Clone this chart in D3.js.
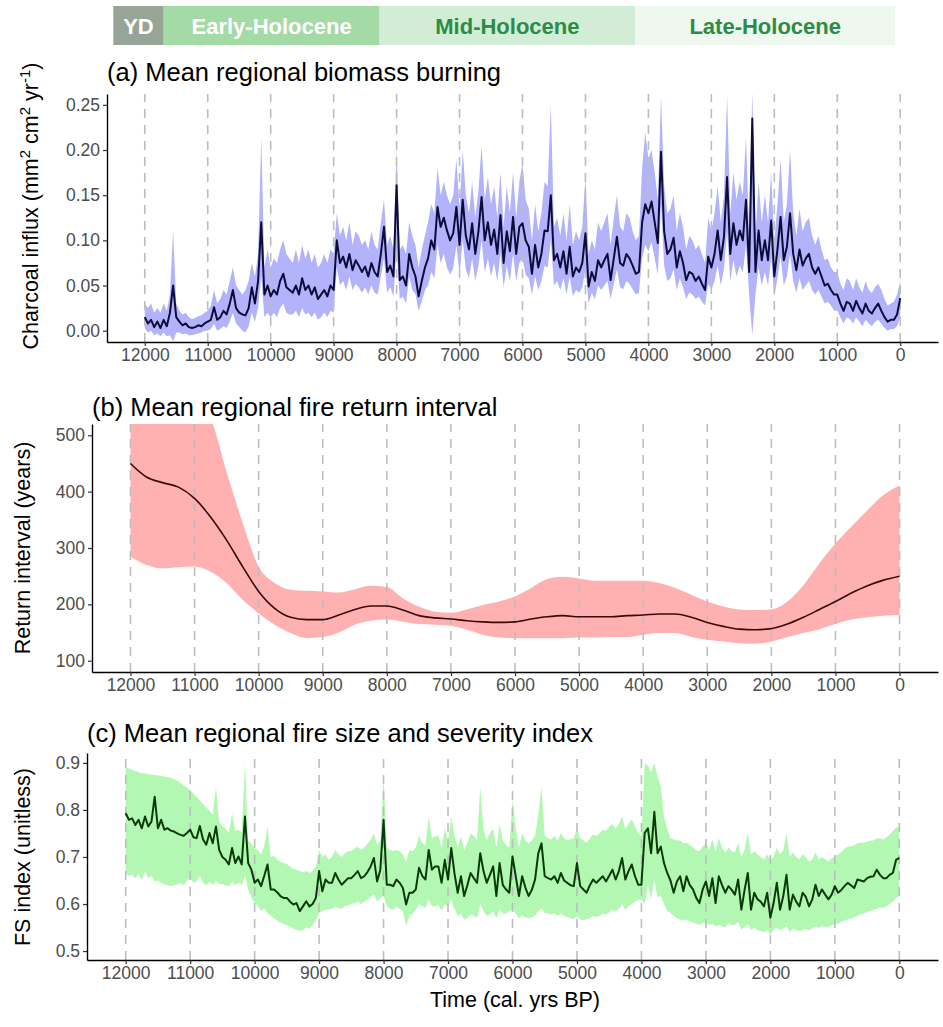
<!DOCTYPE html>
<html>
<head>
<meta charset="utf-8">
<script src="https://cdn.jsdelivr.net/npm/d3@7"></script>
<style>
body { margin: 0; background: #fff; }
svg { display: block; font-family: "Liberation Sans", Arial, sans-serif; }
</style>
</head>
<body>
<svg id="chart" width="943" height="1027"></svg>
<script>
"use strict";

// ---- data -----------------------------------------------------------------

var yearTicks = [12000, 11000, 10000, 9000, 8000, 7000, 6000, 5000, 4000, 3000, 2000, 1000, 0];

// Holocene phases (cal. yrs BP)
var phaseNames = ["YD", "Early-Holocene", "Mid-Holocene", "Late-Holocene"];
var phaseStart = [12500, 11700, 8270, 4210];
var phaseEnd = [11700, 8270, 4210, 80];

// (a) and (c) are sampled every 50 years, 12000 -> 0 BP
var fineYears = d3.range(12000, -1, -50);
// (b) smooth curve, every 250 years
var smoothYears = d3.range(12000, -1, -250);

// (a) charcoal influx, mean and ribbon
var charcoalMean = [
  0.015, 0.008, 0.012, 0.004, 0.010, 0.003, 0.012, 0.005, 0.020, 0.050,
  0.015, 0.010, 0.006, 0.008, 0.004, 0.003, 0.004, 0.006, 0.005, 0.008,
  0.010, 0.012, 0.026, 0.012, 0.015, 0.022, 0.018, 0.030, 0.045, 0.025,
  0.020, 0.018, 0.017, 0.025, 0.048, 0.030, 0.055, 0.120, 0.040, 0.050,
  0.038, 0.045, 0.040, 0.055, 0.063, 0.048, 0.045, 0.042, 0.050, 0.040,
  0.058, 0.045, 0.050, 0.040, 0.048, 0.035, 0.040, 0.045, 0.038, 0.050,
  0.045, 0.100, 0.075, 0.082, 0.070, 0.085, 0.067, 0.078, 0.072, 0.065,
  0.071, 0.060, 0.075, 0.065, 0.060, 0.085, 0.115, 0.065, 0.072, 0.060,
  0.161, 0.056, 0.060, 0.050, 0.085, 0.070, 0.060, 0.038, 0.055, 0.070,
  0.080, 0.100, 0.090, 0.137, 0.115, 0.125, 0.111, 0.100, 0.108, 0.137,
  0.095, 0.145, 0.105, 0.090, 0.119, 0.085, 0.110, 0.148, 0.100, 0.120,
  0.095, 0.112, 0.085, 0.128, 0.075, 0.110, 0.088, 0.126, 0.085, 0.115,
  0.119, 0.100, 0.093, 0.063, 0.095, 0.070, 0.085, 0.111, 0.110, 0.150,
  0.078, 0.085, 0.070, 0.088, 0.063, 0.093, 0.060, 0.070, 0.065, 0.075,
  0.108, 0.049, 0.065, 0.055, 0.078, 0.070, 0.078, 0.085, 0.056, 0.080,
  0.104, 0.075, 0.072, 0.085, 0.080, 0.072, 0.063, 0.065, 0.120, 0.140,
  0.130, 0.143, 0.120, 0.097, 0.198, 0.110, 0.085, 0.090, 0.103, 0.070,
  0.088, 0.075, 0.056, 0.065, 0.063, 0.055, 0.060, 0.052, 0.045, 0.082,
  0.070, 0.085, 0.111, 0.078, 0.104, 0.170, 0.085, 0.119, 0.095, 0.111,
  0.100, 0.145, 0.065, 0.235, 0.065, 0.111, 0.078, 0.100, 0.078, 0.122,
  0.060, 0.090, 0.126, 0.078, 0.093, 0.130, 0.085, 0.067, 0.090, 0.072,
  0.080, 0.085, 0.070, 0.063, 0.070, 0.060, 0.050, 0.052, 0.045, 0.040,
  0.040, 0.030, 0.022, 0.032, 0.030, 0.022, 0.033, 0.025, 0.019, 0.030,
  0.022, 0.019, 0.025, 0.030, 0.022, 0.015, 0.010, 0.012, 0.012, 0.018,
  0.036
];
var charcoalUpper = [
  0.030, 0.025, 0.030, 0.020, 0.025, 0.020, 0.030, 0.022, 0.040, 0.110,
  0.030, 0.022, 0.018, 0.020, 0.015, 0.013, 0.014, 0.016, 0.017, 0.020,
  0.022, 0.028, 0.045, 0.030, 0.035, 0.045, 0.040, 0.055, 0.070, 0.050,
  0.045, 0.040, 0.045, 0.055, 0.075, 0.060, 0.085, 0.215, 0.070, 0.090,
  0.070, 0.080, 0.075, 0.090, 0.100, 0.085, 0.080, 0.075, 0.090, 0.075,
  0.095, 0.080, 0.090, 0.075, 0.085, 0.070, 0.075, 0.085, 0.075, 0.090,
  0.085, 0.130, 0.105, 0.115, 0.100, 0.120, 0.095, 0.110, 0.105, 0.095,
  0.100, 0.090, 0.110, 0.095, 0.090, 0.120, 0.145, 0.095, 0.105, 0.090,
  0.200, 0.090, 0.095, 0.085, 0.120, 0.105, 0.095, 0.070, 0.090, 0.105,
  0.120, 0.140, 0.130, 0.180, 0.150, 0.165, 0.150, 0.140, 0.150, 0.190,
  0.135, 0.200, 0.150, 0.130, 0.165, 0.125, 0.155, 0.205, 0.145, 0.170,
  0.140, 0.160, 0.125, 0.175, 0.115, 0.160, 0.130, 0.175, 0.125, 0.165,
  0.185, 0.145, 0.135, 0.100, 0.140, 0.110, 0.130, 0.165, 0.160, 0.250,
  0.115, 0.125, 0.105, 0.130, 0.100, 0.140, 0.095, 0.110, 0.100, 0.115,
  0.170, 0.085, 0.100, 0.090, 0.120, 0.110, 0.120, 0.130, 0.095, 0.125,
  0.150, 0.115, 0.110, 0.130, 0.125, 0.110, 0.100, 0.105, 0.180, 0.220,
  0.190, 0.200, 0.175, 0.145, 0.260, 0.160, 0.130, 0.135, 0.150, 0.110,
  0.130, 0.115, 0.090, 0.105, 0.100, 0.090, 0.095, 0.085, 0.075, 0.125,
  0.110, 0.130, 0.160, 0.120, 0.150, 0.260, 0.130, 0.175, 0.145, 0.165,
  0.150, 0.215, 0.105, 0.265, 0.105, 0.165, 0.120, 0.150, 0.120, 0.175,
  0.100, 0.140, 0.190, 0.120, 0.140, 0.200, 0.130, 0.105, 0.135, 0.110,
  0.120, 0.125, 0.105, 0.095, 0.105, 0.090, 0.078, 0.080, 0.070, 0.065,
  0.065, 0.052, 0.045, 0.058, 0.055, 0.045, 0.058, 0.048, 0.042, 0.055,
  0.045, 0.042, 0.048, 0.052, 0.045, 0.035, 0.028, 0.030, 0.032, 0.040,
  0.055
];
var charcoalLower = [
  0.003, -0.002, 0.000, -0.005, -0.003, -0.006, -0.002, -0.006, -0.005, -0.012,
  -0.002, -0.002, -0.004, -0.003, -0.005, -0.005, -0.004, -0.003, -0.002, 0.000,
  0.000, 0.002, 0.008, 0.000, 0.002, 0.005, 0.003, 0.010, 0.020, 0.008,
  0.004, 0.000, -0.002, 0.005, 0.020, 0.010, 0.025, 0.060, 0.015, 0.020,
  0.015, 0.020, 0.015, 0.025, 0.030, 0.020, 0.018, 0.018, 0.022, 0.015,
  0.025, 0.018, 0.020, 0.015, 0.020, 0.012, 0.015, 0.020, 0.015, 0.022,
  0.020, 0.070, 0.050, 0.055, 0.045, 0.060, 0.045, 0.052, 0.048, 0.042,
  0.048, 0.040, 0.050, 0.042, 0.040, 0.060, 0.080, 0.042, 0.048, 0.038,
  0.090, 0.035, 0.038, 0.030, 0.060, 0.045, 0.040, 0.022, 0.032, 0.045,
  0.050, 0.065, 0.058, 0.095, 0.075, 0.085, 0.070, 0.062, 0.070, 0.095,
  0.062, 0.100, 0.068, 0.058, 0.080, 0.055, 0.072, 0.100, 0.065, 0.080,
  0.060, 0.075, 0.055, 0.085, 0.048, 0.072, 0.055, 0.085, 0.055, 0.075,
  0.080, 0.062, 0.058, 0.040, 0.060, 0.045, 0.055, 0.072, 0.070, 0.100,
  0.050, 0.055, 0.045, 0.058, 0.040, 0.060, 0.038, 0.045, 0.042, 0.048,
  0.068, 0.030, 0.042, 0.035, 0.050, 0.045, 0.050, 0.055, 0.035, 0.052,
  0.068, 0.048, 0.046, 0.055, 0.052, 0.046, 0.040, 0.042, 0.080, 0.095,
  0.088, 0.098, 0.080, 0.062, 0.140, 0.072, 0.055, 0.058, 0.068, 0.045,
  0.058, 0.048, 0.035, 0.042, 0.040, 0.035, 0.038, 0.032, 0.028, 0.052,
  0.045, 0.055, 0.072, 0.050, 0.068, 0.110, 0.055, 0.078, 0.060, 0.072,
  0.065, 0.095, 0.040, -0.005, 0.040, 0.070, 0.050, 0.065, 0.050, 0.080,
  0.038, 0.058, 0.082, 0.050, 0.060, 0.085, 0.055, 0.042, 0.058, 0.045,
  0.050, 0.055, 0.045, 0.040, 0.045, 0.038, 0.030, 0.032, 0.028, 0.022,
  0.022, 0.015, 0.008, 0.015, 0.013, 0.008, 0.015, 0.010, 0.005, 0.012,
  0.008, 0.005, 0.010, 0.012, 0.008, 0.003, 0.000, 0.002, 0.002, 0.005,
  0.015
];

// (b) fire return interval (years)
var friMean = [
  450, 426, 416, 408, 388, 355, 314, 267, 223, 193,
  177, 173, 173, 181, 191, 197, 197, 190, 180, 176,
  174, 171, 169, 168, 169, 174, 178, 180, 178, 178,
  178, 180, 181, 183, 183, 177, 168, 161, 156, 155,
  157, 165, 177, 191, 205, 220, 233, 243, 250
];
var friUpper = [
  640, 620, 600, 580, 560, 530, 435, 345, 267, 238,
  226, 224, 223, 221, 227, 233, 231, 211, 196, 187,
  185, 191, 199, 205, 214, 229, 245, 249, 246, 242,
  242, 242, 242, 238, 229, 217, 205, 196, 191, 190,
  191, 205, 234, 273, 308, 338, 367, 394, 411
];
var friLower = [
  285, 270, 264, 266, 267, 258, 238, 208, 184, 164,
  149, 140, 142, 150, 164, 171, 173, 169, 165, 164,
  162, 155, 146, 141, 140, 140, 140, 140, 141, 141,
  142, 142, 146, 149, 149, 142, 137, 134, 131, 130,
  134, 142, 149, 156, 165, 173, 177, 180, 181
];

// (c) fire size and severity index
var fsMean = [
  0.793, 0.779, 0.782, 0.768, 0.779, 0.761, 0.786, 0.765, 0.775, 0.828,
  0.761, 0.779, 0.758, 0.761, 0.756, 0.754, 0.750, 0.747, 0.745, 0.751,
  0.758, 0.742, 0.740, 0.766, 0.737, 0.726, 0.751, 0.729, 0.765, 0.715,
  0.700, 0.694, 0.684, 0.719, 0.687, 0.701, 0.684, 0.786, 0.687, 0.673,
  0.645, 0.652, 0.638, 0.660, 0.684, 0.631, 0.631, 0.625, 0.617, 0.613,
  0.613, 0.605, 0.599, 0.602, 0.585, 0.595, 0.606, 0.595, 0.600, 0.613,
  0.670, 0.627, 0.652, 0.645, 0.645, 0.666, 0.652, 0.641, 0.648, 0.655,
  0.655, 0.662, 0.670, 0.655, 0.659, 0.668, 0.680, 0.698, 0.648, 0.673,
  0.779, 0.641, 0.641, 0.638, 0.652, 0.645, 0.634, 0.599, 0.624, 0.624,
  0.631, 0.677, 0.660, 0.652, 0.715, 0.673, 0.680, 0.680, 0.645, 0.694,
  0.652, 0.719, 0.665, 0.624, 0.659, 0.617, 0.640, 0.666, 0.655, 0.645,
  0.708, 0.670, 0.645, 0.662, 0.680, 0.617, 0.687, 0.640, 0.631, 0.624,
  0.701, 0.659, 0.617, 0.659, 0.635, 0.617, 0.630, 0.652, 0.708, 0.729,
  0.659, 0.655, 0.652, 0.659, 0.645, 0.666, 0.650, 0.645, 0.640, 0.638,
  0.687, 0.638, 0.631, 0.624, 0.640, 0.652, 0.645, 0.652, 0.659, 0.648,
  0.660, 0.673, 0.652, 0.670, 0.698, 0.652, 0.670, 0.684, 0.659, 0.641,
  0.641, 0.751, 0.761, 0.708, 0.796, 0.708, 0.722, 0.687, 0.666, 0.650,
  0.624, 0.648, 0.659, 0.627, 0.659, 0.640, 0.631, 0.613, 0.602, 0.631,
  0.648, 0.617, 0.655, 0.602, 0.659, 0.640, 0.624, 0.638, 0.630, 0.620,
  0.652, 0.588, 0.630, 0.666, 0.588, 0.624, 0.610, 0.605, 0.595, 0.624,
  0.571, 0.602, 0.645, 0.588, 0.617, 0.662, 0.588, 0.620, 0.605, 0.595,
  0.624, 0.615, 0.595, 0.610, 0.641, 0.617, 0.631, 0.620, 0.610, 0.620,
  0.638, 0.624, 0.630, 0.638, 0.645, 0.640, 0.634, 0.652, 0.650, 0.648,
  0.655, 0.658, 0.659, 0.673, 0.662, 0.655, 0.655, 0.662, 0.666, 0.694,
  0.698
];
var fsUpper = [
  0.892, 0.888, 0.885, 0.883, 0.880, 0.878, 0.878, 0.876, 0.875, 0.874,
  0.873, 0.872, 0.871, 0.870, 0.868, 0.866, 0.862, 0.858, 0.852, 0.848,
  0.842, 0.835, 0.828, 0.820, 0.812, 0.805, 0.798, 0.790, 0.849, 0.775,
  0.765, 0.760, 0.751, 0.793, 0.755, 0.758, 0.752, 0.899, 0.735, 0.729,
  0.718, 0.715, 0.705, 0.725, 0.765, 0.700, 0.702, 0.695, 0.690, 0.687,
  0.685, 0.680, 0.675, 0.673, 0.670, 0.668, 0.670, 0.666, 0.670, 0.680,
  0.715, 0.700, 0.705, 0.694, 0.700, 0.715, 0.705, 0.700, 0.708, 0.712,
  0.712, 0.718, 0.722, 0.715, 0.720, 0.728, 0.737, 0.750, 0.725, 0.735,
  0.870, 0.720, 0.715, 0.712, 0.715, 0.712, 0.705, 0.690, 0.715, 0.712,
  0.720, 0.745, 0.729, 0.725, 0.786, 0.740, 0.744, 0.745, 0.720, 0.760,
  0.735, 0.786, 0.745, 0.720, 0.744, 0.715, 0.730, 0.750, 0.745, 0.735,
  0.849, 0.760, 0.735, 0.751, 0.760, 0.720, 0.770, 0.735, 0.725, 0.720,
  0.821, 0.760, 0.720, 0.750, 0.735, 0.729, 0.735, 0.745, 0.790, 0.849,
  0.745, 0.740, 0.737, 0.745, 0.735, 0.750, 0.740, 0.735, 0.738, 0.740,
  0.760, 0.740, 0.735, 0.730, 0.740, 0.748, 0.745, 0.750, 0.758, 0.755,
  0.765, 0.770, 0.760, 0.770, 0.786, 0.760, 0.770, 0.780, 0.765, 0.750,
  0.744, 0.899, 0.895, 0.880, 0.900, 0.870, 0.850, 0.786, 0.760, 0.740,
  0.737, 0.735, 0.735, 0.729, 0.730, 0.725, 0.720, 0.715, 0.712, 0.722,
  0.730, 0.715, 0.737, 0.712, 0.740, 0.720, 0.708, 0.720, 0.712, 0.710,
  0.730, 0.700, 0.715, 0.751, 0.705, 0.712, 0.705, 0.700, 0.695, 0.705,
  0.694, 0.700, 0.720, 0.705, 0.715, 0.751, 0.700, 0.710, 0.700, 0.695,
  0.705, 0.700, 0.690, 0.695, 0.710, 0.695, 0.700, 0.695, 0.690, 0.698,
  0.701, 0.705, 0.710, 0.718, 0.722, 0.722, 0.725, 0.729, 0.730, 0.730,
  0.733, 0.735, 0.735, 0.740, 0.740, 0.737, 0.742, 0.748, 0.755, 0.762,
  0.765
];
var fsLower = [
  0.666, 0.660, 0.662, 0.655, 0.665, 0.650, 0.670, 0.655, 0.660, 0.648,
  0.650, 0.645, 0.642, 0.640, 0.638, 0.640, 0.642, 0.645, 0.640, 0.650,
  0.655, 0.645, 0.648, 0.660, 0.645, 0.640, 0.648, 0.640, 0.650, 0.642,
  0.642, 0.640, 0.638, 0.648, 0.640, 0.645, 0.640, 0.660, 0.631, 0.615,
  0.602, 0.595, 0.585, 0.590, 0.581, 0.575, 0.570, 0.565, 0.560, 0.558,
  0.555, 0.552, 0.548, 0.545, 0.543, 0.545, 0.550, 0.548, 0.555, 0.565,
  0.581, 0.585, 0.588, 0.588, 0.590, 0.595, 0.592, 0.590, 0.595, 0.598,
  0.600, 0.602, 0.605, 0.600, 0.605, 0.610, 0.615, 0.620, 0.605, 0.612,
  0.617, 0.595, 0.590, 0.588, 0.595, 0.590, 0.585, 0.553, 0.575, 0.580,
  0.588, 0.600, 0.595, 0.592, 0.610, 0.595, 0.595, 0.598, 0.585, 0.600,
  0.595, 0.610, 0.590, 0.575, 0.580, 0.567, 0.570, 0.578, 0.575, 0.570,
  0.600, 0.585, 0.575, 0.578, 0.585, 0.570, 0.590, 0.580, 0.580, 0.585,
  0.588, 0.580, 0.570, 0.575, 0.572, 0.570, 0.572, 0.575, 0.585, 0.590,
  0.581, 0.580, 0.578, 0.580, 0.575, 0.580, 0.575, 0.572, 0.570, 0.568,
  0.575, 0.567, 0.565, 0.568, 0.570, 0.575, 0.572, 0.575, 0.580, 0.578,
  0.582, 0.588, 0.585, 0.590, 0.600, 0.588, 0.595, 0.600, 0.605, 0.609,
  0.609, 0.600, 0.640, 0.610, 0.650, 0.615, 0.617, 0.600, 0.585, 0.581,
  0.575, 0.570, 0.567, 0.565, 0.567, 0.563, 0.560, 0.558, 0.556, 0.560,
  0.560, 0.555, 0.558, 0.552, 0.555, 0.553, 0.550, 0.560, 0.555, 0.556,
  0.562, 0.546, 0.550, 0.558, 0.545, 0.550, 0.545, 0.542, 0.540, 0.545,
  0.535, 0.545, 0.550, 0.545, 0.548, 0.552, 0.540, 0.548, 0.545, 0.543,
  0.545, 0.547, 0.545, 0.548, 0.552, 0.550, 0.553, 0.552, 0.550, 0.555,
  0.557, 0.558, 0.562, 0.565, 0.567, 0.570, 0.572, 0.575, 0.578, 0.580,
  0.583, 0.585, 0.587, 0.590, 0.592, 0.592, 0.595, 0.600, 0.605, 0.612,
  0.617
];

// ---- layout ---------------------------------------------------------------

var RIGHT = 938;
var X_DOMAIN = [12600, -600];
var TICK_FONT = "17.5px";
var AXIS_TITLE_FONT = "21.5px";
var PANEL_TITLE_FONT = "25.5px";

var svg = d3.select("#chart");

var panels = [
  {
    key: "a",
    title: "(a) Mean regional biomass burning",
    left: 107, top: 94, bottom: 342, titleY: 81,
    yDomain: [-0.0125, 0.262],
    yTicks: [0, 0.05, 0.10, 0.15, 0.20, 0.25],
    yFormat: d3.format(".2f"),
    yLabelX: 30, yLabelY: 206,
    years: fineYears, mean: charcoalMean, upper: charcoalUpper, lower: charcoalLower,
    ribbon: "#b3b3fb", line: "#0c0c3c", lineWidth: 2,
    curve: d3.curveLinear
  },
  {
    key: "b",
    title: "(b) Mean regional fire return interval",
    left: 92, top: 424, bottom: 672, titleY: 416,
    yDomain: [80, 520],
    yTicks: [100, 200, 300, 400, 500],
    yFormat: d3.format("d"),
    yLabelX: 22, yLabelY: 548,
    yLabel: "Return interval (years)",
    years: smoothYears, mean: friMean, upper: friUpper, lower: friLower,
    ribbon: "#ffb1b1", line: "#3a0a0a", lineWidth: 1.6,
    curve: d3.curveMonotoneX
  },
  {
    key: "c",
    title: "(c) Mean regional fire size and severity index",
    left: 87, top: 753, bottom: 960, titleY: 742,
    yDomain: [0.481, 0.921],
    yTicks: [0.5, 0.6, 0.7, 0.8, 0.9],
    yFormat: d3.format(".1f"),
    yLabelX: 22, yLabelY: 857,
    yLabel: "FS index (unitless)",
    years: fineYears, mean: fsMean, upper: fsUpper, lower: fsLower,
    ribbon: "#b2f8b2", line: "#0a3a0a", lineWidth: 2,
    curve: d3.curveLinear
  }
];

var defs = svg.append("defs");

function drawPanel(p) {

  var x = d3.scaleLinear().domain(X_DOMAIN).range([p.left, RIGHT]);
  var y = d3.scaleLinear().domain(p.yDomain).range([p.bottom, p.top]);

  var g = svg.append("g").attr("class", "panel panel-" + p.key);

  defs.append("clipPath").attr("id", "clip-" + p.key)
    .append("rect")
    .attr("x", p.left).attr("y", p.top)
    .attr("width", RIGHT - p.left).attr("height", p.bottom - p.top);

  var rows = p.mean.map(function(v, i) {
    return {t: p.years[i], m: v, lo: p.lower[i], hi: p.upper[i]};
  });

  var plot = g.append("g").attr("clip-path", "url(#clip-" + p.key + ")");

  plot.append("path")
    .datum(rows)
    .attr("fill", p.ribbon)
    .attr("d", d3.area()
      .x(function(d) { return x(d.t); })
      .y0(function(d) { return y(d.lo); })
      .y1(function(d) { return y(d.hi); })
      .curve(p.curve));

  // dashed 1000-yr guides
  plot.selectAll("line.guide")
    .data(yearTicks)
    .join("line")
    .attr("class", "guide")
    .attr("x1", function(d) { return x(d); })
    .attr("x2", function(d) { return x(d); })
    .attr("y1", p.bottom)
    .attr("y2", p.top)
    .attr("stroke", "#bdbdbd")
    .attr("stroke-width", 1.6)
    .attr("stroke-dasharray", "9,7");

  plot.append("path")
    .datum(rows)
    .attr("fill", "none")
    .attr("stroke", p.line)
    .attr("stroke-width", p.lineWidth)
    .attr("stroke-linejoin", "round")
    .attr("d", d3.line()
      .x(function(d) { return x(d.t); })
      .y(function(d) { return y(d.m); })
      .curve(p.curve));

  // axes
  var xAxis = g.append("g")
    .attr("transform", "translate(0," + p.bottom + ")")
    .call(d3.axisBottom(x)
      .tickValues(yearTicks)
      .tickFormat(d3.format("d"))
      .tickSize(4)
      .tickSizeOuter(0)
      .tickPadding(3));

  var yAxis = g.append("g")
    .attr("transform", "translate(" + p.left + ",0)")
    .call(d3.axisLeft(y)
      .tickValues(p.yTicks)
      .tickFormat(p.yFormat)
      .tickSize(4)
      .tickSizeOuter(0)
      .tickPadding(3));

  [xAxis, yAxis].forEach(function(ax) {
    ax.select(".domain").attr("stroke", "#000").attr("stroke-width", 1.4);
    ax.selectAll(".tick line").attr("stroke", "#333").attr("stroke-width", 1.2);
    ax.selectAll(".tick text")
      .attr("fill", "#4d4d4d")
      .style("font-size", TICK_FONT)
      .style("font-family", "'Liberation Sans', Arial, sans-serif");
  });

  // panel title
  g.append("text")
    .attr("x", p.left)
    .attr("y", p.titleY)
    .style("font-size", PANEL_TITLE_FONT)
    .attr("fill", "#000")
    .text(p.title);

  // y-axis title
  var yl = g.append("text")
    .attr("transform", "translate(" + p.yLabelX + "," + p.yLabelY + ") rotate(-90)")
    .attr("text-anchor", "middle")
    .attr("dy", "0.35em")
    .style("font-size", AXIS_TITLE_FONT)
    .attr("fill", "#000");

  if (p.key === "a") {
    yl.append("tspan").text("Charcoal influx (mm");
    yl.append("tspan").attr("baseline-shift", "super").style("font-size", "15px").text("2");
    yl.append("tspan").text(" cm");
    yl.append("tspan").attr("baseline-shift", "super").style("font-size", "15px").text("2");
    yl.append("tspan").text(" yr");
    yl.append("tspan").attr("baseline-shift", "super").style("font-size", "15px").text("-1");
    yl.append("tspan").text(")");
  } else {
    yl.text(p.yLabel);
  }

  return x;
}

var xScales = panels.map(drawPanel);

// x-axis title
svg.append("text")
  .attr("x", 515)
  .attr("y", 1007)
  .attr("text-anchor", "middle")
  .style("font-size", AXIS_TITLE_FONT)
  .text("Time (cal. yrs BP)");

// ---- phase band on top, aligned with panel (a) ----------------------------

var xa = xScales[0];
var phaseFill = ["#97a597", "#a4daa6", "#d2edd6", "#eef8ef"];
var phaseText = ["#ffffff", "#ffffff", "#2b8c48", "#2b8c48"];

var band = svg.append("g").attr("class", "phases");

band.selectAll("rect")
  .data(phaseNames)
  .join("rect")
  .attr("x", function(d, i) { return xa(phaseStart[i]); })
  .attr("width", function(d, i) { return xa(phaseEnd[i]) - xa(phaseStart[i]); })
  .attr("y", 6)
  .attr("height", 39)
  .attr("fill", function(d, i) { return phaseFill[i]; });

band.selectAll("text")
  .data(phaseNames)
  .join("text")
  .attr("x", function(d, i) { return (xa(phaseStart[i]) + xa(phaseEnd[i])) / 2; })
  .attr("y", 26)
  .attr("dy", "0.36em")
  .attr("text-anchor", "middle")
  .style("font-family", "'Liberation Sans Narrow', 'Liberation Sans', Arial, sans-serif")
  .style("font-weight", "bold")
  .style("font-size", "22px")
  .attr("fill", function(d, i) { return phaseText[i]; })
  .text(function(d) { return d; });
</script>
</body>
</html>
